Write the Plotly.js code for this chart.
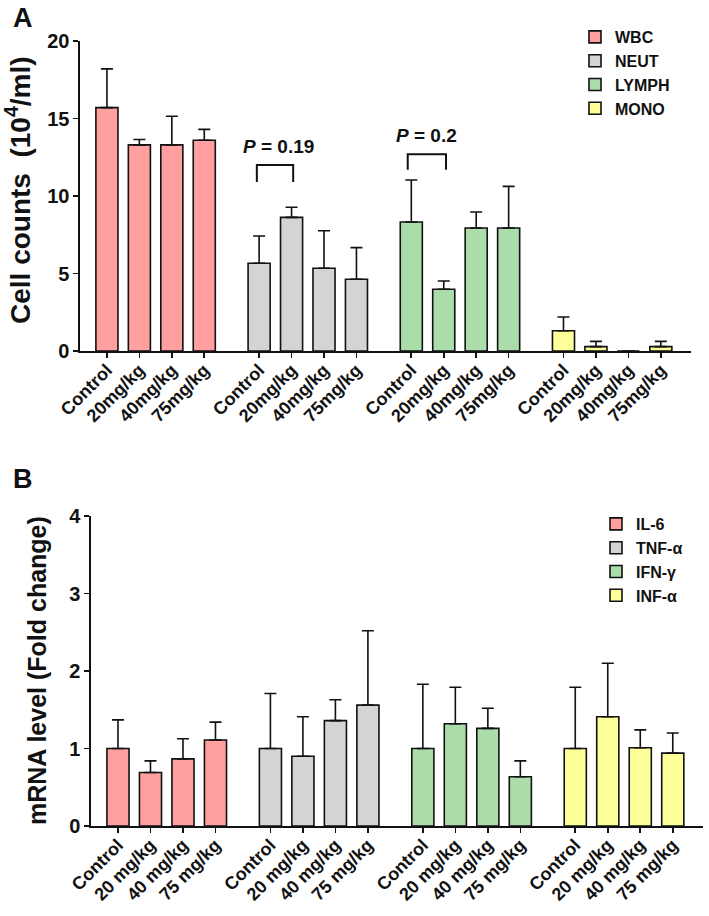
<!DOCTYPE html>
<html>
<head>
<meta charset="utf-8">
<script src="https://cdn.plot.ly/plotly-3.0.1.min.js"></script>
<style>html,body{margin:0;padding:0;background:#fff;}#chart{width:709px;height:916px;}</style>
</head>
<body>
<div id="chart"></div>
<script>
// ---------- Data ----------
const dosesA = ["Control", "20mg/kg", "40mg/kg", "75mg/kg"];
const dosesB = ["Control", "20 mg/kg", "40 mg/kg", "75 mg/kg"];

const seriesA = ["WBC", "NEUT", "LYMPH", "MONO"];
const wbc = [15.7, 13.3, 13.3, 13.6];
const wbcErr = [2.5, 0.35, 1.85, 0.7];
const neut = [5.66, 8.62, 5.34, 4.63];
const neutErr = [1.76, 0.65, 2.42, 2.04];
const lymph = [8.32, 3.98, 7.94, 7.94];
const lymphErr = [2.71, 0.54, 1.03, 2.68];
const mono = [1.31, 0.28, 0, 0.28];
const monoErr = [0.88, 0.34, 0, 0.34];

const seriesB = ["IL-6", "TNF-α", "IFN-γ", "INF-α"];
const il6 = [1.0, 0.69, 0.866, 1.11];
const il6Err = [0.37, 0.15, 0.26, 0.23];
const tnf = [1.0, 0.9, 1.36, 1.56];
const tnfErr = [0.71, 0.51, 0.27, 0.96];
const ifn = [1.0, 1.32, 1.26, 0.635];
const ifnErr = [0.83, 0.47, 0.26, 0.205];
const inf = [1.0, 1.41, 1.01, 0.94];
const infErr = [0.79, 0.69, 0.23, 0.26];

const pLabels = ["<i>P</i> = 0.19", "<i>P</i> = 0.2"];

const colors = ["#FF9F9F", "#D4D4D4", "#AADDAA", "#FFFF99"];

// ---------- Layout helpers ----------
const groupStep = 4.69;
const W = 709, H = 916;
const px = v => v / W;
const py = v => 1 - v / H;
const FONT = "Liberation Sans, Arial, Helvetica, sans-serif";

function xs(g) { return [0, 1, 2, 3].map(i => g * groupStep + i); }

const dataA = [[wbc, wbcErr], [neut, neutErr], [lymph, lymphErr], [mono, monoErr]];
const dataB = [[il6, il6Err], [tnf, tnfErr], [ifn, ifnErr], [inf, infErr]];

const traces = [];
dataA.forEach((d, g) => {
  traces.push({
    type: "bar", name: seriesA[g], x: xs(g), y: d[0],
    xaxis: "x", yaxis: "y", legend: "legend",
    width: 0.68,
    marker: { color: colors[g], line: { color: "#111", width: 1.6 } },
    error_y: { type: "data", array: d[1], arrayminus: d[1].map(() => 0), symmetric: false,
               color: "#111", thickness: 1.6, width: 6 },
    hoverinfo: "skip"
  });
});
dataB.forEach((d, g) => {
  traces.push({
    type: "bar", name: seriesB[g], x: xs(g), y: d[0],
    xaxis: "x2", yaxis: "y2", legend: "legend2",
    width: 0.68,
    marker: { color: colors[g], line: { color: "#111", width: 1.6 } },
    error_y: { type: "data", array: d[1], arrayminus: d[1].map(() => 0), symmetric: false,
               color: "#111", thickness: 1.6, width: 6 },
    hoverinfo: "skip"
  });
});

const tickVals = [0, 1, 2, 3].flatMap(g => xs(g));
const tickTextA = [0, 1, 2, 3].flatMap(() => dosesA);
const tickTextB = [0, 1, 2, 3].flatMap(() => dosesB);

const axisCommon = {
  showgrid: false, zeroline: false, showline: true, linecolor: "#111", linewidth: 1.6,
  ticks: "outside", ticklen: 5, tickwidth: 1.6, tickcolor: "#111", fixedrange: true
};

const xCommon = Object.assign({}, axisCommon, {
  range: [-0.83, 18.0], tickmode: "array", tickvals: tickVals, tickangle: -45,
  ticklabelstandoff: -5,
  tickfont: { family: FONT, size: 18, color: "#111", weight: "bold" }
});

// bracket shapes (data coordinates)
const brackets = [
  { g: 1, x0: -0.07, x1: 1.05, top: 12.0, bot: 10.9 },
  { g: 2, x0: -0.11, x1: 1.07, top: 12.7, bot: 11.7 }
];
const shapes = brackets.map(b => {
  const a = b.g * groupStep + b.x0, c = b.g * groupStep + b.x1;
  return { type: "path", xref: "x", yref: "y",
           path: `M ${a},${b.bot} L ${a},${b.top} L ${c},${b.top} L ${c},${b.bot}`,
           line: { color: "#111", width: 2 } };
});

const ann = (o) => Object.assign({ showarrow: false, xanchor: "center", yanchor: "middle" }, o);
const annotations = [
  ann({ text: "<b>" + pLabels[0] + "</b>", xref: "x", yref: "y", x: 1 * groupStep + 0.61, y: 13.2,
    font: { family: FONT, size: 19, color: "#111" } }),
  ann({ text: "<b>" + pLabels[1] + "</b>", xref: "x", yref: "y", x: 2 * groupStep + 0.48, y: 13.9,
    font: { family: FONT, size: 19, color: "#111" } }),
  ann({ text: "<b>A</b>", xref: "paper", yref: "paper", x: px(23), y: py(18),
    font: { family: FONT, size: 27, color: "#111" } }),
  ann({ text: "<b>B</b>", xref: "paper", yref: "paper", x: px(23), y: py(479),
    font: { family: FONT, size: 27, color: "#111" } }),
  ann({ text: "<b>Cell counts  (10<sup>4</sup>/ml)</b>", xref: "paper", yref: "paper", x: px(18), y: py(190),
    textangle: -90, font: { family: FONT, size: 28, color: "#111" } }),
  ann({ text: "<b>mRNA level (Fold change)</b>", xref: "paper", yref: "paper", x: px(37), y: py(671),
    textangle: -90, font: { family: FONT, size: 25, color: "#111" } })
];

const legendCommon = {
  font: { family: FONT, size: 16, color: "#111", weight: "bold" },
  bgcolor: "rgba(0,0,0,0)", borderwidth: 0, traceorder: "normal", tracegroupgap: 0,
  xanchor: "left", yanchor: "top", itemclick: false, itemdoubleclick: false
};

const layout = {
  width: W, height: H,
  margin: { l: 0, r: 0, t: 0, b: 0 },
  paper_bgcolor: "#fff", plot_bgcolor: "#fff",
  barmode: "overlay",
  showlegend: true,
  xaxis: Object.assign({}, xCommon, { domain: [px(80), px(691)], anchor: "y", ticktext: tickTextA }),
  yaxis: Object.assign({}, axisCommon, {
    domain: [py(351), py(41)], anchor: "x", range: [0, 20], tickvals: [0, 5, 10, 15, 20],
    tickfont: { family: FONT, size: 20, color: "#111", weight: "bold" }
  }),
  xaxis2: Object.assign({}, xCommon, { domain: [px(91), px(703)], anchor: "y2", ticktext: tickTextB }),
  yaxis2: Object.assign({}, axisCommon, {
    domain: [py(826), py(516)], anchor: "x2", range: [0, 4], tickvals: [0, 1, 2, 3, 4],
    tickfont: { family: FONT, size: 20, color: "#111", weight: "bold" }
  }),
  legend: Object.assign({}, legendCommon, { x: px(575), y: py(20) }),
  legend2: Object.assign({}, legendCommon, { x: px(596), y: py(507) }),
  shapes: shapes,
  annotations: annotations
};

Plotly.newPlot("chart", traces, layout, { staticPlot: true, displayModeBar: false });
</script>
</body>
</html>
